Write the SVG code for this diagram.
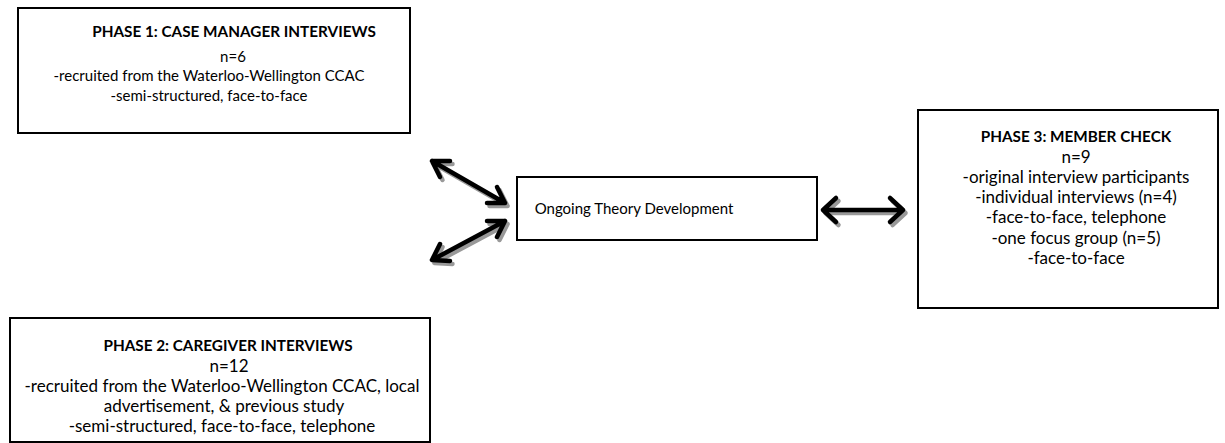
<svg xmlns="http://www.w3.org/2000/svg" width="1225" height="443" viewBox="0 0 1225 443">
<defs>
<style>
.box{fill:#fff;stroke:#000;stroke-width:2}
.t{font-family:Lato,"Liberation Sans",sans-serif;font-size:15px;fill:#000;text-anchor:middle}
.b{font-weight:bold;font-size:15.3px}
.l{font-size:17px}
.arr{fill:none;stroke:#000;stroke-width:4.5;stroke-linecap:round;stroke-linejoin:round}
.sh{fill:none;stroke:#999;stroke-width:4.5;stroke-linecap:round;stroke-linejoin:round}
</style>
<filter id="blur" x="-20%" y="-20%" width="140%" height="140%"><feGaussianBlur stdDeviation="0.7"/></filter>
</defs>
<g id="phase1">
<rect class="box" x="18" y="8" width="392" height="125"/>
<text class="t b" x="234" y="37">PHASE 1: CASE MANAGER INTERVIEWS</text>
<text class="t" x="233" y="62">n=6</text>
<text class="t" x="209" y="81">-recruited from the Waterloo-Wellington CCAC</text>
<text class="t" x="209" y="101">-semi-structured, face-to-face</text>
</g>
<g id="phase2">
<rect class="box" x="10" y="318" width="420" height="124"/>
<text class="t b" x="228" y="351">PHASE 2: CAREGIVER INTERVIEWS</text>
<text class="t l" x="229" y="372">n=12</text>
<text class="t l" x="222" y="392">-recruited from the Waterloo-Wellington CCAC, local</text>
<text class="t l" x="224" y="412">advertisement, &amp; previous study</text>
<text class="t l" x="222" y="432">-semi-structured, face-to-face, telephone</text>
</g>
<g id="center">
<rect class="box" x="517" y="177" width="300" height="63"/>
<text class="t" x="634" y="214">Ongoing Theory Development</text>
</g>
<g id="phase3">
<rect class="box" x="918" y="110" width="300" height="198"/>
<text class="t b" x="1076" y="142">PHASE 3: MEMBER CHECK</text>
<text class="t l" x="1076" y="163">n=9</text>
<text class="t l" x="1076" y="183">-original interview participants</text>
<text class="t l" x="1076" y="203">-individual interviews (n=4)</text>
<text class="t l" x="1076" y="223">-face-to-face, telephone</text>
<text class="t l" x="1076" y="244">-one focus group (n=5)</text>
<text class="t l" x="1076" y="264">-face-to-face</text>
</g>
<g id="connectors">
<g filter="url(#blur)" transform="translate(2.5,3)">
<path class="sh" d="M432,161 L505,203 M432,161 L450,161 M432,161 L440,177 M505,203 L487,203 M505,203 L497,187"/>
<path class="sh" d="M432,260 L505,221 M432,260 L440,244 M432,260 L450,261 M505,221 L487,221 M505,221 L497,237"/>
<path class="sh" d="M823,210 L903,210 M823,210 L836,198 M823,210 L836,222 M903,210 L890,198 M903,210 L890,222"/>
</g>
<path class="arr" d="M432,161 L505,203 M432,161 L450,161 M432,161 L440,177 M505,203 L487,203 M505,203 L497,187"/>
<path class="arr" d="M432,260 L505,221 M432,260 L440,244 M432,260 L450,261 M505,221 L487,221 M505,221 L497,237"/>
<path class="arr" d="M823,210 L903,210 M823,210 L836,198 M823,210 L836,222 M903,210 L890,198 M903,210 L890,222"/>
</g>
</svg>
